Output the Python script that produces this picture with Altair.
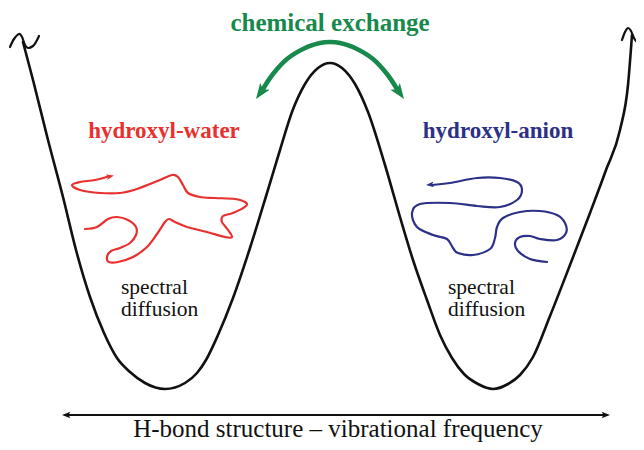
import altair as alt
import pandas as pd

# ---- canvas (data units = page pixels) ----
W, H = 628, 434
X0, Y0 = 8, 8

# ---- double-well potential curve ----
well_x = [23, 33, 48, 63, 76, 90, 104, 117, 130, 145, 165, 185, 197, 206, 218, 233, 250, 267, 280, 292,
          305, 318, 330, 342, 355, 368, 385, 400, 413, 427, 440, 452, 464, 478, 493, 508, 520, 533, 550,
          570, 590, 606, 620, 628, 632]
well_y = [42, 80, 140, 197, 250, 297, 333, 358, 372, 383, 389, 383, 373, 360, 335, 298, 248, 193, 150, 112,
          84, 68, 63, 68, 84, 112, 165, 217, 260, 300, 335, 358, 374, 384, 389, 384, 375, 357, 316,
          265, 213, 170, 130, 85, 35]

# break marks (tildes) at the top of both arms
tilde_l_x = [10, 14, 19, 22, 25, 28, 33, 36, 39]
tilde_l_y = [47, 39, 34, 37, 45, 48, 46, 42, 36]
tilde_r_x = [622, 625, 628, 631, 634, 637, 640, 644]
tilde_r_y = [40, 32, 28, 31, 38, 42, 42, 38]

# ---- red spectral-diffusion trajectory (hydroxyl-water) ----
red_x = [85, 97, 108, 117, 128, 136, 136, 130, 120, 111, 107, 109, 118, 133, 147, 157, 165, 169, 175, 187,
         207, 225, 232, 228, 222, 223, 233, 246, 245, 235, 215, 200, 188, 183, 178, 172, 160, 137, 120,
         100, 80, 72, 80, 95, 108]
red_y = [229, 227, 219, 217, 220, 227, 235, 243, 248, 251, 257, 262, 262, 257, 247, 234, 222, 219, 222, 227,
         232, 237, 237, 230, 222, 216, 213, 206, 202, 199, 198, 197, 193, 185, 177, 175, 180, 189, 193,
         193, 190, 185, 182, 180, 176.5]

# ---- blue spectral-diffusion trajectory (hydroxyl-anion) ----
blue_x = [547, 530, 518, 515, 520, 530, 540, 557, 566, 565, 557, 540, 520, 503, 497, 495, 490, 473, 458,
          453, 447, 433, 417, 412, 420, 450, 477, 500, 517, 522, 517, 500, 477, 450, 432]
blue_y = [262, 259, 251, 243, 237, 236, 239, 240, 233, 223, 215, 211, 212, 218, 227, 238, 249, 255, 253,
          248, 239, 235, 227, 213, 204, 203, 206, 207, 200, 190, 182, 178, 178, 183, 185]

# ---- green chemical-exchange arc ----
green_x = [263, 273, 287, 305, 320, 330, 340, 355, 373, 387, 397]
green_y = [89, 74, 59, 48, 43, 42, 43, 48, 59, 74, 89]

# ---- bottom double arrow ----
axis_x = [66, 606]
axis_y = [415, 415]

# ---- arrow heads: tip position and rotation (deg, clockwise from up) ----
heads_green = {"x": [256, 404], "y": [99, 99], "a": [215, 145]}
heads_red = {"x": [114], "y": [175.5], "a": [77]}
heads_blue = {"x": [426], "y": [185], "a": [265]}
heads_black = {"x": [62, 610], "y": [415, 415], "a": [270, 90]}

# ---- texts ----
title_text = ["chemical exchange"]
label_left = ["hydroxyl-water"]
label_right = ["hydroxyl-anion"]
diff_lines = ["spectral", "diffusion"]
axis_label = ["H-bond structure \u2013 vibrational frequency"]

RED = "#e8312f"
BLUE = "#2c3087"
GREEN = "#17894b"
SERIF = "Liberation Serif"
ARROW = "M0,0 L0.75,2 L0,1.55 L-0.75,2 Z"

xs = alt.Scale(domain=[X0, X0 + W], nice=False, zero=False)
ys = alt.Scale(domain=[Y0, Y0 + H], nice=False, zero=False, reverse=True)


def path(xv, yv, color, width, interp="cardinal"):
    df = pd.DataFrame({"x": xv, "y": yv, "i": list(range(len(xv)))})
    return alt.Chart(df).mark_line(color=color, strokeWidth=width, interpolate=interp,
                                   strokeCap="round", strokeJoin="round").encode(
        x=alt.X("x:Q", scale=xs, axis=None),
        y=alt.Y("y:Q", scale=ys, axis=None),
        order="i:Q")


def heads(d, color, size):
    df = pd.DataFrame(d)
    return alt.Chart(df).mark_point(shape=ARROW, filled=True, size=size, color=color,
                                    opacity=1, strokeWidth=0).encode(
        x=alt.X("x:Q", scale=xs, axis=None),
        y=alt.Y("y:Q", scale=ys, axis=None),
        angle=alt.Angle("a:Q", scale=None))


def text(xv, yv, tv, color, size, weight="normal", align="center"):
    df = pd.DataFrame({"x": xv, "y": yv, "t": tv})
    return alt.Chart(df).mark_text(color=color, fontSize=size, font=SERIF, fontWeight=weight,
                                   align=align, baseline="alphabetic").encode(
        x=alt.X("x:Q", scale=xs, axis=None),
        y=alt.Y("y:Q", scale=ys, axis=None),
        text="t:N")


layers = [
    path(well_x, well_y, "#111111", 2.6, "monotone"),
    path(tilde_l_x, tilde_l_y, "#111111", 2.2),
    path(tilde_r_x, tilde_r_y, "#111111", 2.2),
    path(red_x, red_y, RED, 2.2),
    path(blue_x, blue_y, BLUE, 2.2),
    path(green_x, green_y, GREEN, 4.6),
    path(axis_x, axis_y, "#111111", 2.0, "linear"),
    heads(heads_green, GREEN, 240),
    heads(heads_red, RED, 60),
    heads(heads_blue, BLUE, 60),
    heads(heads_black, "#111111", 70),
    text([330], [31], title_text, GREEN, 25, "bold"),
    text([164], [138], label_left, RED, 23, "bold"),
    text([498], [138], label_right, BLUE, 23, "bold"),
    text([121, 121], [294, 316], diff_lines, "#111111", 21.5, align="left"),
    text([448, 448], [294, 316], diff_lines, "#111111", 21.5, align="left"),
    text([338], [437], axis_label, "#111111", 25),
]

chart = alt.layer(*layers).properties(
    width=W, height=H, padding=0, autosize=alt.AutoSizeParams(type="none")
).configure_view(stroke=None)

chart.save("out.html", embed_options={"renderer": "svg", "actions": False})
